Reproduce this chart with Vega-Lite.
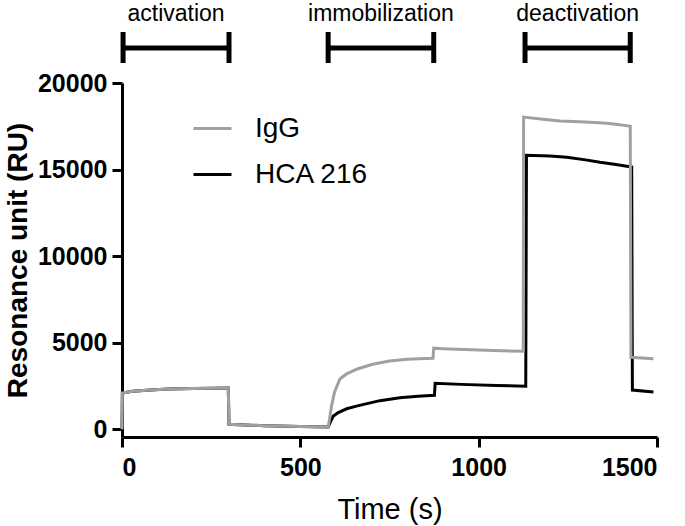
{
  "$schema": "https://vega.github.io/schema/vega-lite/v6.json",
  "width": 535,
  "height": 354,
  "autosize": {"type": "none"},
  "padding": {"left": 122, "top": 83, "right": 28, "bottom": 89},
  "background": "white",
  "config": {
    "view": {"stroke": null},
    "font": "Liberation Sans",
    "axis": {
      "grid": false,
      "domainColor": "black",
      "domainWidth": 3,
      "tickColor": "black",
      "tickWidth": 3,
      "tickSize": 10,
      "labelFont": "Liberation Sans",
      "labelFontWeight": "bold",
      "labelFontSize": 25,
      "labelColor": "black",
      "titleFont": "Liberation Sans",
      "titleColor": "black"
    }
  },
  "datasets": {
    "sensorgram": [
      {"series": "IgG", "i": 1, "t": 0, "ru": 0},
      {"series": "IgG", "i": 2, "t": 1, "ru": 2090},
      {"series": "IgG", "i": 3, "t": 30, "ru": 2190},
      {"series": "IgG", "i": 4, "t": 80, "ru": 2270},
      {"series": "IgG", "i": 5, "t": 130, "ru": 2320},
      {"series": "IgG", "i": 6, "t": 200, "ru": 2350},
      {"series": "IgG", "i": 7, "t": 298, "ru": 2380},
      {"series": "IgG", "i": 8, "t": 300, "ru": 280},
      {"series": "IgG", "i": 9, "t": 400, "ru": 200},
      {"series": "IgG", "i": 10, "t": 500, "ru": 150},
      {"series": "IgG", "i": 11, "t": 578, "ru": 130},
      {"series": "IgG", "i": 12, "t": 582, "ru": 600},
      {"series": "IgG", "i": 13, "t": 588, "ru": 1400},
      {"series": "IgG", "i": 14, "t": 596, "ru": 2150},
      {"series": "IgG", "i": 15, "t": 611, "ru": 2900},
      {"series": "IgG", "i": 16, "t": 630, "ru": 3200},
      {"series": "IgG", "i": 17, "t": 660, "ru": 3480},
      {"series": "IgG", "i": 18, "t": 700, "ru": 3740},
      {"series": "IgG", "i": 19, "t": 750, "ru": 3940},
      {"series": "IgG", "i": 20, "t": 800, "ru": 4040},
      {"series": "IgG", "i": 21, "t": 850, "ru": 4090},
      {"series": "IgG", "i": 22, "t": 872, "ru": 4100},
      {"series": "IgG", "i": 23, "t": 874, "ru": 4680},
      {"series": "IgG", "i": 24, "t": 900, "ru": 4650},
      {"series": "IgG", "i": 25, "t": 1000, "ru": 4570},
      {"series": "IgG", "i": 26, "t": 1125, "ru": 4500},
      {"series": "IgG", "i": 27, "t": 1126, "ru": 18030},
      {"series": "IgG", "i": 28, "t": 1180, "ru": 17900},
      {"series": "IgG", "i": 29, "t": 1228, "ru": 17800},
      {"series": "IgG", "i": 30, "t": 1300, "ru": 17740},
      {"series": "IgG", "i": 31, "t": 1360, "ru": 17680},
      {"series": "IgG", "i": 32, "t": 1400, "ru": 17580},
      {"series": "IgG", "i": 33, "t": 1425, "ru": 17500},
      {"series": "IgG", "i": 34, "t": 1427, "ru": 4150},
      {"series": "IgG", "i": 35, "t": 1490, "ru": 4070},
      {"series": "HCA 216", "i": 1, "t": 0, "ru": 0},
      {"series": "HCA 216", "i": 2, "t": 1, "ru": 2090},
      {"series": "HCA 216", "i": 3, "t": 30, "ru": 2190},
      {"series": "HCA 216", "i": 4, "t": 80, "ru": 2270},
      {"series": "HCA 216", "i": 5, "t": 130, "ru": 2320},
      {"series": "HCA 216", "i": 6, "t": 200, "ru": 2350},
      {"series": "HCA 216", "i": 7, "t": 298, "ru": 2380},
      {"series": "HCA 216", "i": 8, "t": 300, "ru": 280},
      {"series": "HCA 216", "i": 9, "t": 400, "ru": 200},
      {"series": "HCA 216", "i": 10, "t": 500, "ru": 150},
      {"series": "HCA 216", "i": 11, "t": 578, "ru": 130},
      {"series": "HCA 216", "i": 12, "t": 585, "ru": 450},
      {"series": "HCA 216", "i": 13, "t": 592, "ru": 750},
      {"series": "HCA 216", "i": 14, "t": 605, "ru": 950},
      {"series": "HCA 216", "i": 15, "t": 630, "ru": 1180},
      {"series": "HCA 216", "i": 16, "t": 660, "ru": 1350},
      {"series": "HCA 216", "i": 17, "t": 687, "ru": 1480},
      {"series": "HCA 216", "i": 18, "t": 723, "ru": 1650},
      {"series": "HCA 216", "i": 19, "t": 779, "ru": 1820},
      {"series": "HCA 216", "i": 20, "t": 830, "ru": 1910},
      {"series": "HCA 216", "i": 21, "t": 876, "ru": 1960},
      {"series": "HCA 216", "i": 22, "t": 878, "ru": 2650},
      {"series": "HCA 216", "i": 23, "t": 950, "ru": 2590},
      {"series": "HCA 216", "i": 24, "t": 1050, "ru": 2530},
      {"series": "HCA 216", "i": 25, "t": 1132, "ru": 2480},
      {"series": "HCA 216", "i": 26, "t": 1134, "ru": 15830},
      {"series": "HCA 216", "i": 27, "t": 1200, "ru": 15780},
      {"series": "HCA 216", "i": 28, "t": 1247, "ru": 15710},
      {"series": "HCA 216", "i": 29, "t": 1300, "ru": 15560},
      {"series": "HCA 216", "i": 30, "t": 1340, "ru": 15420},
      {"series": "HCA 216", "i": 31, "t": 1380, "ru": 15300},
      {"series": "HCA 216", "i": 32, "t": 1429, "ru": 15150},
      {"series": "HCA 216", "i": 33, "t": 1431, "ru": 2260},
      {"series": "HCA 216", "i": 34, "t": 1490, "ru": 2150}
    ],
    "phases": [
      {"phase": "activation", "start": 3, "end": 300, "mid": 151.5},
      {"phase": "immobilization", "start": 578, "end": 874, "mid": 726},
      {"phase": "deactivation", "start": 1130, "end": 1425, "mid": 1277.5}
    ]
  },
  "layer": [
    {
      "data": {"name": "sensorgram"},
      "transform": [{"filter": "datum.series === 'HCA 216'"}],
      "mark": {"type": "line", "strokeWidth": 3, "clip": false},
      "encoding": {
        "x": {"field": "t", "type": "quantitative", "scale": {"domain": [0, 1500], "nice": false},
              "axis": {"values": [0, 500, 1000, 1500], "format": "d", "title": "Time (s)", "titleFontSize": 29, "titleFontWeight": "normal", "labelPadding": 8, "titlePadding": 15}},
        "y": {"field": "ru", "type": "quantitative", "scale": {"domain": [-450, 20000], "nice": false, "zero": false},
              "axis": {"values": [0, 5000, 10000, 15000, 20000], "format": "d", "title": "Resonance unit (RU)", "titleFontSize": 28, "titleFontWeight": "bold", "labelPadding": 5, "titlePadding": 5}},
        "order": {"field": "i", "type": "quantitative"},
        "color": {"field": "series", "type": "nominal",
                  "scale": {"domain": ["IgG", "HCA 216"], "range": ["#a0a0a0", "#000000"]},
                  "legend": {"orient": "none", "legendX": 70, "legendY": 25, "title": null, "symbolType": "stroke", "symbolSize": 1444, "symbolStrokeWidth": 3, "labelFontSize": 28, "labelFont": "Liberation Sans", "labelColor": "black", "labelOffset": 22, "rowPadding": 11, "padding": 0}}
      }
    },
    {
      "data": {"name": "sensorgram"},
      "transform": [{"filter": "datum.series === 'IgG'"}],
      "mark": {"type": "line", "strokeWidth": 3, "clip": false},
      "encoding": {
        "x": {"field": "t", "type": "quantitative"},
        "y": {"field": "ru", "type": "quantitative"},
        "order": {"field": "i", "type": "quantitative"},
        "color": {"field": "series", "type": "nominal"}
      }
    },
    {
      "data": {"name": "phases"},
      "mark": {"type": "rule", "strokeWidth": 5, "color": "black"},
      "encoding": {
        "x": {"field": "start", "type": "quantitative"},
        "x2": {"field": "end"},
        "y": {"datum": 22022}
      }
    },
    {
      "data": {"name": "phases"},
      "mark": {"type": "rule", "strokeWidth": 5, "color": "black"},
      "encoding": {
        "x": {"field": "start", "type": "quantitative"},
        "y": {"datum": 21155},
        "y2": {"datum": 22946}
      }
    },
    {
      "data": {"name": "phases"},
      "mark": {"type": "rule", "strokeWidth": 5, "color": "black"},
      "encoding": {
        "x": {"field": "end", "type": "quantitative"},
        "y": {"datum": 21155},
        "y2": {"datum": 22946}
      }
    },
    {
      "data": {"name": "phases"},
      "mark": {"type": "text", "fontSize": 23, "font": "Liberation Sans", "color": "black", "baseline": "alphabetic", "align": "center"},
      "encoding": {
        "x": {"field": "mid", "type": "quantitative"},
        "y": {"datum": 23582},
        "text": {"field": "phase", "type": "nominal"}
      }
    }
  ]
}
